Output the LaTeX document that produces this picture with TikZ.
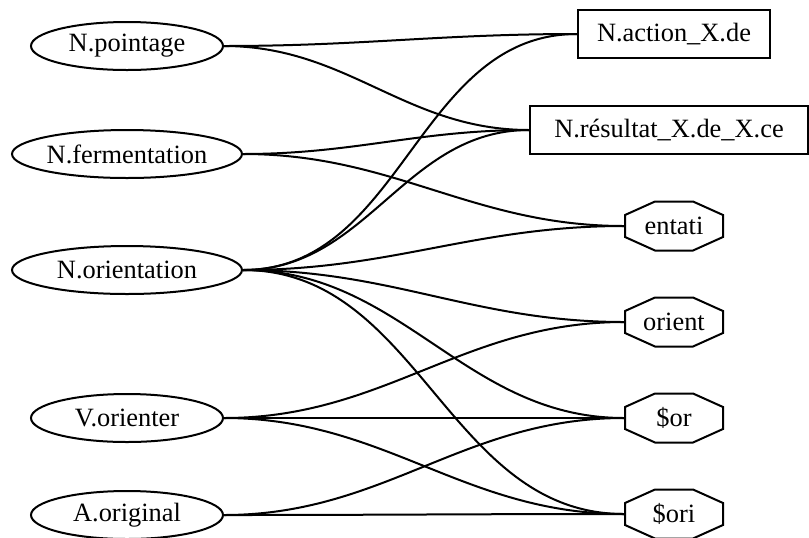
\documentclass[tikz,border=0pt]{standalone}
\usepackage{fontspec}
\setmainfont{Liberation Serif}
\usetikzlibrary{shapes.geometric}
\tikzset{
	every picture/.style={line width=1pt},
}
\begin{document}
\begin{tikzpicture}[x=0.5pt, y=-0.5pt,
	lemma/.style = {ellipse, draw, inner sep=0, minimum height=24pt, font=\rmfamily\fontsize{13.2}{15}\selectfont},
	sense/.style = {rectangle, draw, inner sep=0, minimum height=24pt, font=\rmfamily\fontsize{13.2}{15}\selectfont},
	chunk/.style = {rectangle, inner sep=0, minimum width=49pt, minimum height=24.5pt, font=\rmfamily\fontsize{13.2}{15}\selectfont},
	link/.style = {out=0, in=180}]
\useasboundingbox (0,0) rectangle (809,537);
\node[lemma,minimum width=96pt] (pointage) at (127,46) {N.pointage};
\node[lemma,minimum width=115pt] (fermentation) at (127,154) {N.fermentation};
\node[lemma,minimum width=115pt] (orientation) at (127,270) {N.orientation};
\node[lemma,minimum width=96pt] (orienter) at (127,418) {V.orienter};
\node[lemma,minimum width=96pt] (original) at (127,515) {A.original};
\node[sense,minimum width=96pt] (action) at (674,34) {N.action\_X.de};
\node[sense,minimum width=139pt] (resultat) at (669,130) {N.résultat\_X.de\_X.ce};
\node[chunk] (entati) at (674,226) {entati};
\node[chunk] (orient) at (674,322) {orient};
\node[chunk] (or) at (674,418) {\$or};
\node[chunk] (ori) at (674,514) {\$ori};
\foreach \n in {entati,orient,or,ori}
	\draw[shift={(\n.center)}] (-49,-11) -- (-49,11) -- (-19,24.5) -- (19,24.5) -- (49,11) -- (49,-11) -- (19,-24.5) -- (-19,-24.5) -- cycle;
\draw (pointage.east) to[link] (action.west);
\draw (pointage.east) to[link] (resultat.west);
\draw (fermentation.east) to[link] (resultat.west);
\draw (fermentation.east) to[link] (entati.west);
\draw (orientation.east) to[link] (action.west);
\draw (orientation.east) to[link] (resultat.west);
\draw (orientation.east) to[link] (entati.west);
\draw (orientation.east) to[link] (orient.west);
\draw (orientation.east) to[link] (or.west);
\draw (orientation.east) to[link] (ori.west);
\draw (orienter.east) to[link] (orient.west);
\draw (orienter.east) to[link] (or.west);
\draw (orienter.east) to[link] (ori.west);
\draw (original.east) to[link] (or.west);
\draw (original.east) to[link] (ori.west);
\end{tikzpicture}
\end{document}
